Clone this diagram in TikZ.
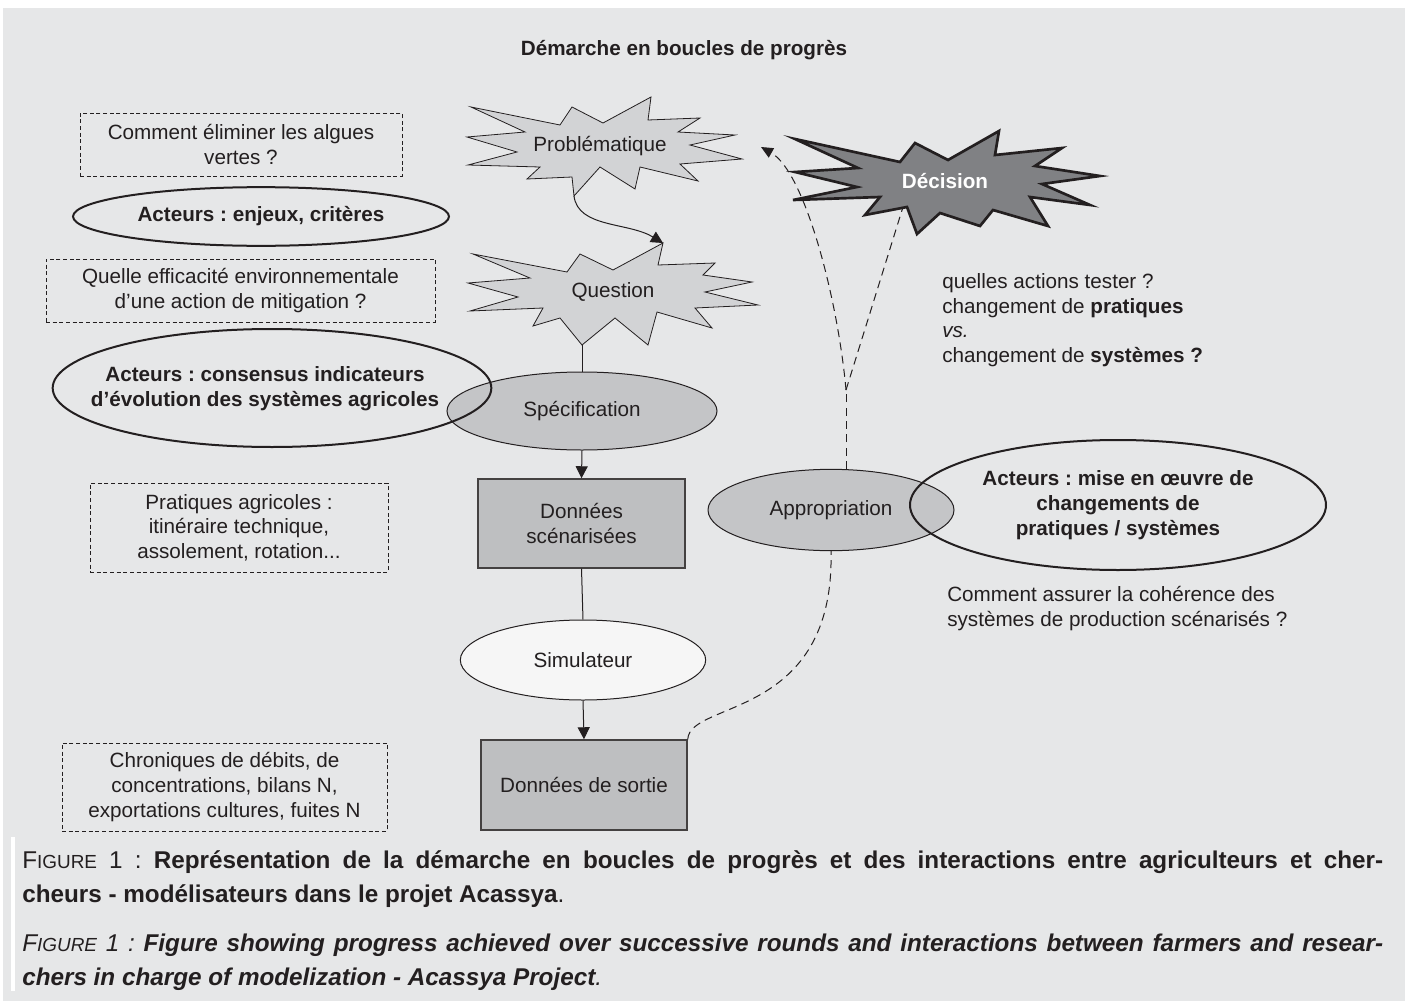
\documentclass[tikz,border=0pt]{standalone}
\usepackage{fontspec}
\setmainfont{Liberation Sans}
\usetikzlibrary{arrows.meta,shapes.geometric}
\frenchspacing

\definecolor{bggray}{RGB}{230,231,232}
\definecolor{ink}{RGB}{35,31,32}
\definecolor{stargray}{RGB}{210,211,213}
\definecolor{ellgray}{RGB}{196,197,199}
\definecolor{boxgray}{RGB}{190,191,193}
\definecolor{simwhite}{RGB}{246,246,246}
\definecolor{decgray}{RGB}{128,129,132}

\newcommand{\lblfont}{\fontsize{15.5}{18.5}\selectfont}
\newcommand{\capfont}{\fontsize{18.2}{25.5}\selectfont}
\newcommand{\capsc}[1]{{\fontsize{14.2}{14}\selectfont #1}}

\begin{document}
\begin{tikzpicture}[x=0.75pt,y=0.75pt,yscale=-1,xscale=1,
  every node/.style={text=ink,font=\lblfont,inner sep=0.75pt},
  dashbox/.style={draw=ink,dash pattern=on 3pt off 2pt,line width=0.6pt,align=center},
  acteur/.style={ellipse,draw=ink,line width=1.5pt},
  stage/.style={ellipse,draw=ink,line width=0.75pt,fill=ellgray},
  databox/.style={draw=ink!85,line width=1.1pt,fill=boxgray,align=center},
  burst/.style={draw=ink,line width=0.6pt,fill=stargray,line join=miter},
  flow/.style={draw=ink,line width=0.75pt,-{Triangle[length=9pt,width=9pt]}},
  link/.style={draw=ink,line width=0.75pt},
  feedback/.style={draw=ink,line width=0.75pt,dash pattern=on 6pt off 4pt}
]
\useasboundingbox (0,0) rectangle (1407,1003);

%Shape: Rectangle [background]
\fill[bggray] (3,8) rectangle (1405,1001);
\fill[white] (11,837) rectangle (15,991);

% Text Node
\node[font=\lblfont\bfseries] (title) at (684,50) {Démarche en boucles de progrès};

%Shape: Rectangle [dashed notes]
\node[dashbox,minimum width=241.5pt,minimum height=47.25pt] (algues) at (241,144.5) {Comment éliminer les algues\\vertes ?};
\node[dashbox,minimum width=291.75pt,minimum height=47.25pt] (efficacite) at (240.5,290.5) {Quelle efficacité environnementale\\d’une action de mitigation ?};
\node[dashbox,minimum width=223.5pt,minimum height=66.75pt] (pratiques) at (239,527.5) {Pratiques agricoles :\\itinéraire technique,\\assolement, rotation...};
\node[dashbox,minimum width=243.75pt,minimum height=66pt] (chroniques) at (224.5,787) {Chroniques de débits, de\\concentrations, bilans N,\\exportations cultures, fuites N};

%Shape: Star [Problématique]
\draw[burst] (471,107) -- (560,125) -- (572,107) -- (603,123) -- (651,97) -- (648,120) -- (700,118) -- (678,132) -- (735,135) -- (690,145) -- (742,159) -- (680,164) -- (698,181) -- (640,167) -- (635,189) -- (600,167) -- (574,196) -- (572,177) -- (527,179) -- (540,167) -- (468,165) -- (517,152) -- (467,137) -- (525,132) -- cycle;
\node (prob) at (600,146) {Problématique};
\coordinate (probBot) at (574,196);
\coordinate (probTip) at (761,147);

%Shape: Star [Question]
\draw[burst] (473,254) -- (567,272) -- (580,254) -- (613,270) -- (663,243) -- (658,265) -- (715,263) -- (703,275) -- (752,282) -- (705,292) -- (758,305) -- (695,308) -- (712,328) -- (657,312) -- (648,345) -- (615,318) -- (582,345) -- (560,318) -- (533,326) -- (543,308) -- (470,311) -- (518,297) -- (468,283) -- (530,278) -- cycle;
\node (quest) at (613,292) {Question};
\coordinate (questTop) at (663,243);
\coordinate (questBot) at (582,345);

%Shape: Star [Décision]
\draw[burst,fill=decgray,line width=2pt] (795,139) -- (900,162) -- (915,143) -- (948,160) -- (999,131) -- (995,155) -- (1062,148) -- (1035,166) -- (1100,176) -- (1042,184) -- (1090,205) -- (1030,197) -- (1048,226) -- (993,210) -- (980,226) -- (940,213) -- (917,234) -- (907,207) -- (865,215) -- (880,197) -- (793,200) -- (857,187) -- (795,172) -- (858,168) -- cycle;
\node[text=white,font=\lblfont\bfseries] (decision) at (945,181) {Décision};
\coordinate (decBot) at (903,207);

%Shape: Ellipse [steps]
\node[stage,minimum width=202.5pt,minimum height=58.5pt] (spec) at (582,411) {Spécification};
\node[stage,fill=simwhite,minimum width=184pt,minimum height=60pt] (simu) at (583,660) {Simulateur};
\node[stage,minimum width=184.5pt,minimum height=61pt] (appr) at (831,510) {Appropriation};

%Shape: Rectangle [data]
\node[databox,minimum width=155.25pt,minimum height=66.75pt] (donSc) at (581.5,523.5) {Données\\scénarisées};
\node[databox,minimum width=154.5pt,minimum height=67.5pt] (sortie) at (584,785) {Données de sortie};

%Shape: Ellipse [actors]
\node[acteur,minimum width=282pt,minimum height=44pt,font=\lblfont\bfseries] (enjeux) at (261,216.5) {Acteurs : enjeux, critères};
\node[acteur,minimum width=329pt,minimum height=88.5pt] (consensus) at (272,388) {};
\node[font=\lblfont\bfseries,align=center] (consensusTxt) at (265,389) {Acteurs : consensus indicateurs\\d’évolution des systèmes agricoles};
\node[acteur,minimum width=312pt,minimum height=97.5pt,font=\lblfont\bfseries,align=center] (miseOeuvre) at (1118,505) {Acteurs : mise en œuvre de\\changements de\\pratiques / systèmes};

% Text Node
\node[anchor=west,align=left] (actions) at (941,320) {quelles actions tester ?\\changement de \textbf{pratiques}\\\textit{vs.}\\changement de \textbf{systèmes ?}};
% Text Node
\node[anchor=west,align=left] (coherence) at (946,608.5) {Comment assurer la cohérence des\\systèmes de production scénarisés ?};

%Straight Lines [main chain]
\draw[flow] (probBot) .. controls (578,228) and (628,222) .. (questTop);
\draw[link] (questBot) -- (spec.north);
\draw[flow] (spec.south) -- (donSc.north);
\draw[link] (donSc.south) -- (simu.north);
\draw[flow] (simu.south) -- (sortie.north);

%Curve Lines [feedback loop]
\coordinate (fork) at (846,390);
\draw[feedback] (sortie.north east) .. controls (690,700) and (835,720) .. (appr.south);
\draw[feedback] (appr.north -| fork) -- (fork);
\draw[feedback] (fork) -- (decBot);
\draw[feedback,-{Triangle[length=9pt,width=8pt]}] (fork) .. controls (838,300) and (805,172) .. (probTip);

% Text Node [caption]
\node[anchor=base west,font=\capfont,inner sep=0pt] (capA) at (22,868) {\hbox to 1020.75pt{F\capsc{IGURE} 1 : \textbf{Représentation de la démarche en boucles de progrès et des interactions entre agriculteurs et cher-}}};
\node[anchor=base west,font=\capfont,inner sep=0pt] (capB) at (22,902) {\textbf{cheurs - modélisateurs dans le projet Acassya}.};
\node[anchor=base west,font=\capfont\itshape,inner sep=0pt] (capC) at (22,951) {\hbox to 1020.75pt{F\capsc{IGURE} 1 : \textbf{Figure showing progress achieved over successive rounds and interactions between farmers and resear-}}};
\node[anchor=base west,font=\capfont\itshape,inner sep=0pt] (capD) at (22,985) {\textbf{chers in charge of modelization - Acassya Project}.};

\end{tikzpicture}
\end{document}
